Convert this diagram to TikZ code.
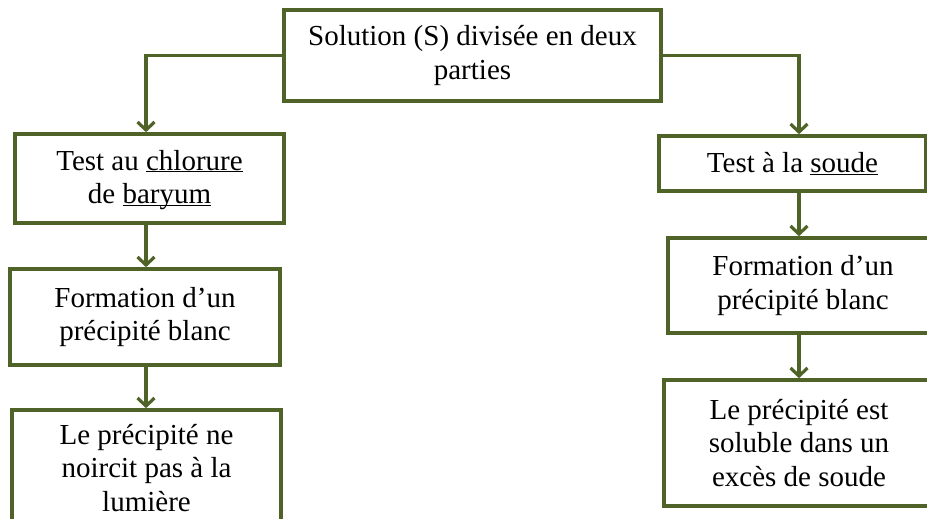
\documentclass[tikz,border=0pt]{standalone}
\usepackage{fontspec}
\setmainfont{Liberation Serif}
\usetikzlibrary{arrows.meta, positioning, calc}
\definecolor{olivedk}{HTML}{4F6228}
\newcommand{\ulw}[1]{\underline{\smash{#1}}}

\begin{document}
\begin{tikzpicture}[
  x=1pt, y=-1pt,
  >={Straight Barb[length=8pt, width=17pt]},
  testbox/.style={
    draw=olivedk, line width=3.6pt, fill=white,
    font=\fontsize{29}{33.5}\selectfont,
    text=black, align=center, inner sep=4pt
  },
  arr/.style={->, line width=3.2pt, olivedk},
]

% Frame
\useasboundingbox (0,0) rectangle (927,519);
\clip (0,0) rectangle (927,519);

% Columns of the connectors
\coordinate (lcol) at (146,0);
\coordinate (rcol) at (799,0);

% Top
\node[testbox, minimum width=377pt, minimum height=91pt] (top) at (472.5,55.5)
  {Solution (S) divisée en deux\\parties};

% =============================================
% Left branch: chlorure de baryum
% =============================================
\node[testbox, minimum width=269pt, minimum height=89pt] (left1) at (149.5,178.5)
  {Test au \ulw{chlorure}\\de \ulw{baryum}};
\node[testbox, minimum width=270pt, minimum height=96pt] (left2) at (145,317)
  {Formation d’un\\précipité blanc};
\node[testbox, minimum width=269pt, minimum height=116pt] (left3) at (146.5,468)
  {Le précipité ne\\noircit pas à la\\lumière};

\draw[arr] (top.west) -| (lcol |- left1.north);
\draw[arr] (lcol |- left1.south) -- (lcol |- left2.north);
\draw[arr] (lcol |- left2.south) -- (lcol |- left3.north);

% =============================================
% Right branch: soude
% =============================================
\node[testbox, minimum width=267pt, minimum height=55pt] (right1) at (792.5,163.5)
  {Test à la \ulw{soude}};
\node[testbox, minimum width=270pt, minimum height=95pt] (right2) at (803,285.5)
  {Formation d’un\\précipité blanc};
\node[testbox, minimum width=270pt, minimum height=126pt] (right3) at (799,443)
  {Le précipité est\\soluble dans un\\excès de soude};

\draw[arr] (top.east) -| (rcol |- right1.north);
\draw[arr] (rcol |- right1.south) -- (rcol |- right2.north);
\draw[arr] (rcol |- right2.south) -- (rcol |- right3.north);

\end{tikzpicture}
\end{document}
